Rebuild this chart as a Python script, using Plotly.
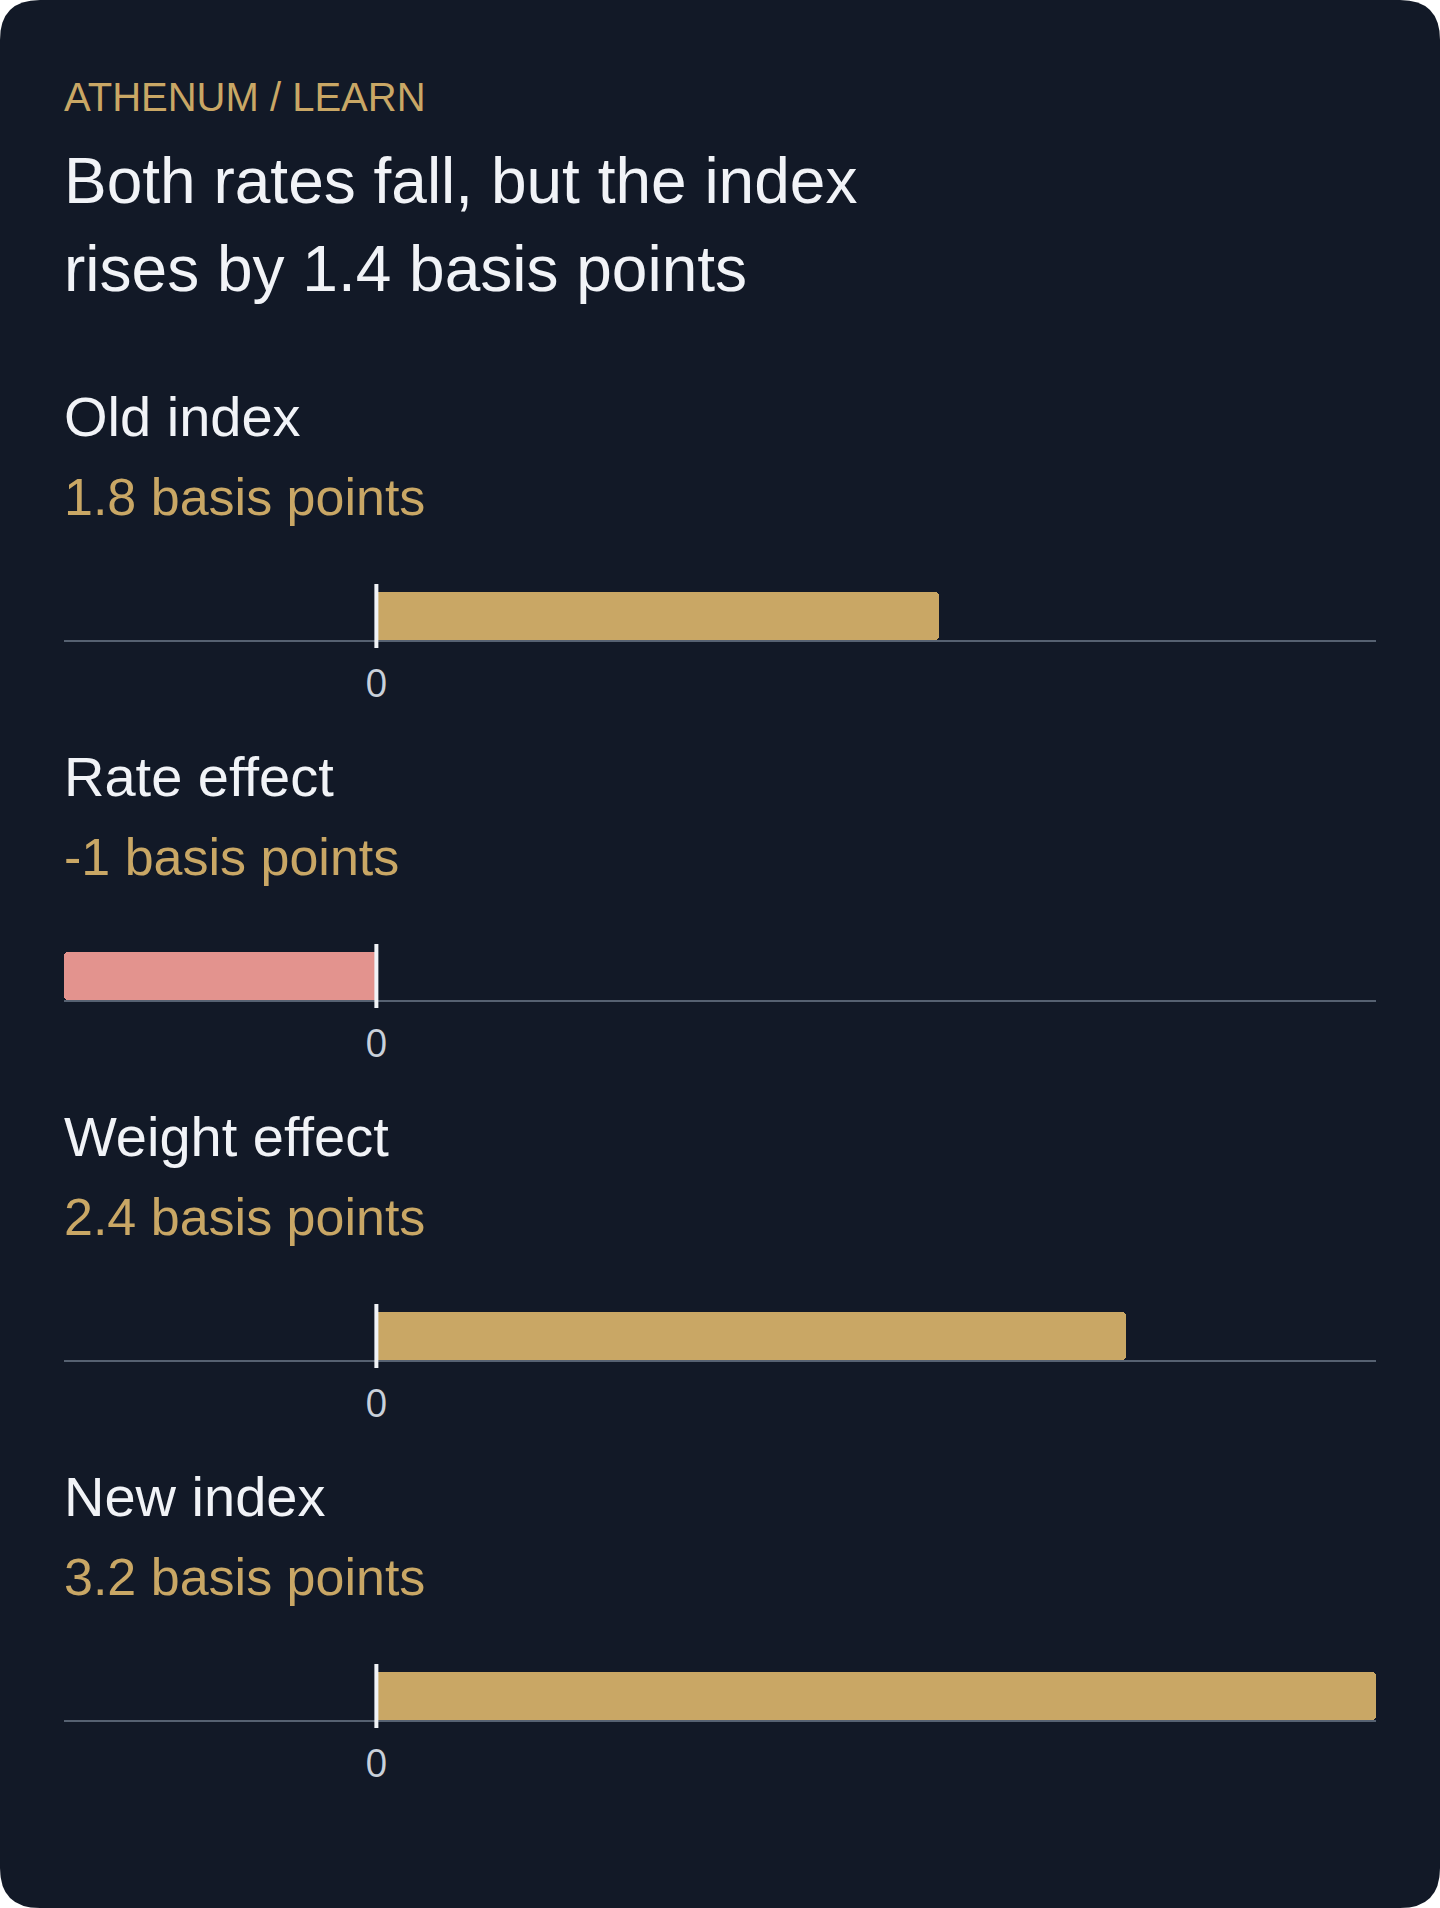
import plotly.graph_objects as go

# chart content
header = "ATHENUM / LEARN"
title_lines = ["Both rates fall, but the index", "rises by 1.4 basis points"]
labels = ["Old index", "Rate effect", "Weight effect", "New index"]
values = [1.8, -1, 2.4, 3.2]
unit = "basis points"

W, H = 1440, 1908
card = "#121927"
gold = "#c9a765"
neg = "#e3938e"
ink = "#f1f3f7"
muted = "#c9d0da"
rule = "#566171"
sans = "Liberation Sans, Arial, sans-serif"


def py(px):
    return 1 - px / H


fig = go.Figure()
annotations = []
shapes = []

# rounded card
rx, ry = 40 / W, 40 / H
shapes.append(dict(
    type="path", xref="paper", yref="paper", layer="below",
    path=(f"M {rx},0 L {1-rx},0 Q 1,0 1,{ry} L 1,{1-ry} Q 1,1 {1-rx},1 "
          f"L {rx},1 Q 0,1 0,{1-ry} L 0,{ry} Q 0,0 {rx},0 Z"),
    fillcolor=card, line_width=0,
))

annotations.append(dict(text=header, x=62 / W, y=py(97), xref="paper", yref="paper",
                        xanchor="left", yanchor="middle", showarrow=False,
                        font=dict(family=sans, size=40, color=gold)))
for j, line in enumerate(title_lines):
    annotations.append(dict(text=line, x=62 / W, y=py(181 + 88 * j), xref="paper", yref="paper",
                            xanchor="left", yanchor="middle", showarrow=False,
                            font=dict(family=sans, size=64, color=ink)))

for i, (lab, val) in enumerate(zip(labels, values)):
    n = "" if i == 0 else str(i + 1)
    top = 592 + 360 * i
    bot = top + 48
    fig.add_trace(go.Bar(
        x=[val], y=[0], orientation="h", width=1,
        marker=dict(color=gold if val >= 0 else neg, cornerradius=4, line_width=0),
        xaxis="x" + n, yaxis="y" + n, hoverinfo="skip", showlegend=False,
    ))
    fig.layout["xaxis" + n] = dict(
        domain=[64 / W, 1376 / W], range=[min(values), max(values)], anchor="y" + n,
        showline=True, linecolor=rule, linewidth=2, showgrid=False, zeroline=False,
        tickvals=[0], ticktext=["0"], ticks="", ticklabelstandoff=8,
        tickfont=dict(family="Open Sans, sans-serif", size=39, color=muted), fixedrange=True,
    )
    fig.layout["yaxis" + n] = dict(domain=[py(bot), py(top)], range=[-0.5, 0.5],
                                   anchor="x" + n, visible=False, fixedrange=True)
    shapes.append(dict(type="line", xref="x" + n, yref=f"y{n} domain",
                       x0=0, x1=0, y0=-8 / 48, y1=1 + 8 / 48,
                       line=dict(color=ink, width=4)))
    annotations.append(dict(text=lab, x=62 / W, y=py(416 + 360 * i), xref="paper", yref="paper",
                            xanchor="left", yanchor="middle", showarrow=False,
                            font=dict(family=sans, size=56, color=ink)))
    annotations.append(dict(text=f"{val:g} {unit}", x=62 / W, y=py(497 + 360 * i),
                            xref="paper", yref="paper", xanchor="left", yanchor="middle",
                            showarrow=False, font=dict(family=sans, size=52, color=gold)))

fig.update_layout(
    width=W, height=H, autosize=False,
    margin=dict(l=0, r=0, t=0, b=0),
    paper_bgcolor="#ffffff", plot_bgcolor="rgba(0,0,0,0)",
    annotations=annotations, shapes=shapes,
    bargap=0, showlegend=False,
)

fig.write_html("out.html", config={"displayModeBar": False},
               post_script="document.body.style.margin='0';")
